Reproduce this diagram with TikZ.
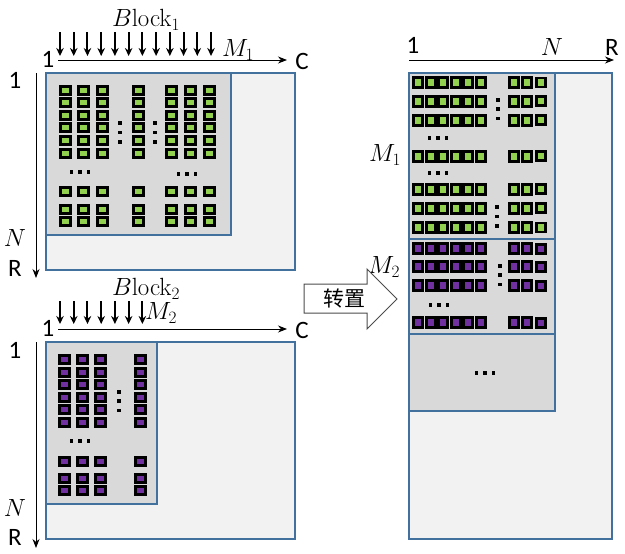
\documentclass[tikz,border=0pt]{standalone}
\usepackage[no-math]{fontspec}
\setmainfont{Carlito}
\newfontfamily\cjkfont{Noto Sans CJK SC}
\usepackage[dvipsnames]{xcolor}
\usepackage{tikz}
\usetikzlibrary{positioning,arrows.meta}
\definecolor{cellgreen}{HTML}{92D050}
\definecolor{cellpurple}{HTML}{7030A0}
\definecolor{blockgray}{HTML}{D9D9D9}
\definecolor{matgray}{HTML}{F2F2F2}
\definecolor{edgeblue}{HTML}{41719C}

\begin{document}
\begin{tikzpicture}[x=1pt, y=-1pt, font=\fontsize{25}{29}\selectfont,
    mat/.style = {draw=edgeblue, line width=1.2pt, fill=matgray},
    blk/.style = {draw=edgeblue, line width=1.2pt, fill=blockgray},
    gcell/.style = {draw=black, line width=3pt, fill=cellgreen, minimum width=10pt, minimum height=8pt, inner sep=0pt},
    pcell/.style = {gcell, fill=cellpurple},
    tgcell/.style = {gcell, minimum width=9pt, minimum height=10pt},
    tpcell/.style = {tgcell, fill=cellpurple},
    lgcell/.style = {gcell, line width=2.6pt, minimum width=9pt, minimum height=9pt},
    lpcell/.style = {lgcell, fill=cellpurple},
    axis/.style = {-{Stealth[length=9pt, width=7pt]}, line width=0.9pt},
    feed/.style = {-{Stealth[length=8pt, width=7.5pt]}, line width=2pt},
    lab/.style = {inner sep=0pt}]
    \useasboundingbox (0,0) rectangle (625,554);

    \draw[mat] (46,73) rectangle (295,270);
    \draw[blk] (46,73) rectangle (231,235);
    \draw[mat] (46,342) rectangle (295,539);
    \draw[blk] (46,342) rectangle (157,504);
    \draw[mat] (409,73) rectangle (612,539);
    \draw[blk] (409,73) rectangle (555,411);
    \draw[edgeblue, line width=1.2pt] (409,239) -- (555,239);
    \draw[edgeblue, line width=1.2pt] (409,334) -- (555,334);

    \node[lab] (blk1) at (146,20) {$B\mathrm{lock}_1$};
    \node[lab] (m1l) at (238,50) {$M_1$};
    \node[lab] (one1h) at (48,59) {1};
    \node[lab] (c1) at (302,61) {C};
    \node[lab] (one1v) at (15,80) {1};
    \node[lab] (n1) at (15,238) {$N$};
    \node[lab] (r1) at (15,268) {R};

    \node[lab] (blk2) at (146,289) {$B\mathrm{lock}_2$};
    \node[lab] (m2l) at (161,313) {$M_2$};
    \node[lab] (one2h) at (48,328) {1};
    \node[lab] (c2) at (302,330) {C};
    \node[lab] (one2v) at (15,350) {1};
    \node[lab] (n2) at (15,508) {$N$};
    \node[lab] (r2) at (15,537) {R};

    \node[lab] (one3h) at (413,45) {1};
    \node[lab] (n3) at (552,47) {$N$};
    \node[lab] (r3) at (612,47) {R};
    \node[lab] (m1r) at (385,155) {$M_1$};
    \node[lab] (m2r) at (384,267) {$M_2$};

    \coordinate (h1s) at (58,60);
    \coordinate (h1e) at (287,60);
    \coordinate (v1s) at (36,73);
    \coordinate (v1e) at (36,278);
    \coordinate (h2s) at (58,329);
    \coordinate (h2e) at (287,329);
    \coordinate (v2s) at (36,342);
    \coordinate (v2e) at (36,548);
    \coordinate (h3s) at (409,60);
    \coordinate (h3e) at (614,60);
    \draw[axis] (h1s) -- (h1e);
    \draw[axis] (v1s) -- (v1e);
    \draw[axis] (h2s) -- (h2e);
    \draw[axis] (v2s) -- (v2e);
    \draw[axis] (h3s) -- (h3e);

    \foreach \i in {0,...,11} {
        \coordinate (fa\i) at (60+13.73*\i,32);
        \coordinate (fb\i) at (60+13.73*\i,56);
        \draw[feed] (fa\i) -- (fb\i);
    }
    \foreach \i in {0,...,6} {
        \coordinate (fc\i) at (60+13.73*\i,301);
        \coordinate (fd\i) at (60+13.73*\i,324);
        \draw[feed] (fc\i) -- (fd\i);
    }

    \foreach \x [count=\i] in {65,83,102,138,171,190,209}
        \foreach \y [count=\j] in {90,102.6,115.2,127.8,140.4,153,191,209,221}
            \node[gcell] (ga-\i-\j) at (\x,\y) {};
    \foreach \x [count=\i] in {64,82,100.5,140}
        \foreach \y [count=\j] in {359.5,372,384.5,397,409.5,422,461,478.5,490.5}
            \node[pcell] (pa-\i-\j) at (\x,\y) {};
    \foreach \y [count=\j] in {82.5,101,120,156,189,208,227.5} {
        \foreach \x [count=\i] in {418,430.6,443.2,455.8,468.4,481,514,526.5}
            \node[tgcell] (gb-\i-\j) at (\x,\y) {};
        \node[lgcell] (gb-9-\j) at (541,\y) {};
    }
    \foreach \y [count=\j] in {248.7,266.7,285.7,322.7} {
        \foreach \x [count=\i] in {418,430.6,443.2,455.8,468.4,481,514,526.5}
            \node[tpcell] (pb-\i-\j) at (\x,\y) {};
        \node[lpcell] (pb-9-\j) at (541,\y) {};
    }

    \foreach \x/\y in {120/132.5, 155/132.5, 119/401, 498/109, 497/216.5, 500/275}
        \foreach \d in {-9.3,0,9.3}
            \fill (\x-1.8,\y+\d-1.8) rectangle ++(3.6,3.6);
    \foreach \x/\y in {80/172, 187/174, 80/441, 438/138, 438/173, 439/305, 485/373}
        \foreach \d in {-8.5,0,8.5}
            \fill (\x+\d-1.8,\y-1.8) rectangle ++(3.6,3.6);

    \draw[black!70, fill=white, line width=1pt] (304,284) -- (367,284) -- (367,269) -- (397,299) -- (367,329) -- (367,313) -- (304,313) -- cycle;
    \node[lab] (trans) at (344,299) {\cjkfont\fontsize{21}{24}\selectfont 转置};
\end{tikzpicture}
\end{document}
